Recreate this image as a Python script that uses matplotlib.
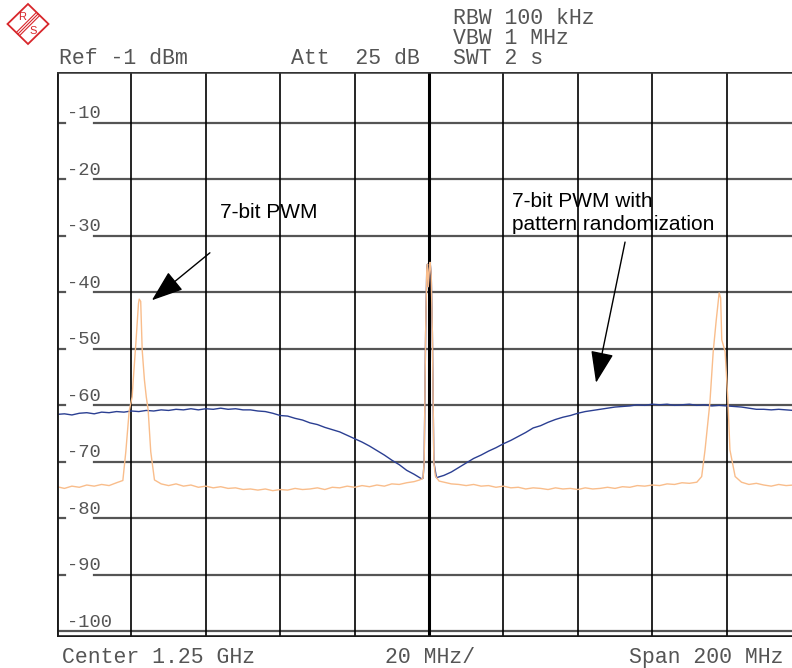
import matplotlib
matplotlib.use('Agg')
import matplotlib.pyplot as plt
from matplotlib.patches import Polygon

# ---- data (frequency in MHz, level in dBm) ----
freq_pwm = [1150, 1152, 1154, 1156, 1158, 1160, 1162, 1164, 1166, 1167.7,
            1168.5, 1169.4, 1170.2, 1170.5, 1171.2, 1171.9, 1172.1, 1172.5, 1172.9, 1173.5,
            1174.0, 1174.5, 1175.2, 1176.2, 1178, 1180, 1182, 1184, 1186, 1188,
            1190, 1192, 1194, 1196, 1198, 1200, 1202, 1204, 1206, 1208,
            1210, 1212, 1214, 1216, 1218, 1220, 1222, 1224, 1226, 1228,
            1230, 1232, 1234, 1236, 1238, 1240, 1242, 1244, 1246, 1247.5,
            1248.4, 1248.7, 1249.1, 1249.4, 1249.6, 1249.8, 1250.1, 1250.3, 1250.6, 1250.9,
            1251.3, 1251.7, 1252.7, 1254, 1256, 1258, 1260, 1262, 1264, 1266,
            1268, 1270, 1272, 1274, 1276, 1278, 1280, 1282, 1284, 1286,
            1288, 1290, 1292, 1294, 1296, 1298, 1300, 1302, 1304, 1306,
            1308, 1310, 1312, 1314, 1316, 1318, 1320, 1322, 1323.3, 1324.2,
            1325.5, 1326.4, 1327.2, 1328.0, 1328.4, 1328.7, 1329.6, 1330.3, 1330.9, 1332.3,
            1334, 1336, 1338, 1340, 1342, 1344, 1346, 1348, 1350]
level_pwm = [-74.4, -74.7, -74.3, -74.5, -74.1, -74.3, -74.0, -74.2, -73.7, -73.3,
             -68.2, -61.0, -58.5, -55.5, -49.0, -42.0, -41.2, -41.6, -50.2, -55.5,
             -58.5, -60.8, -68.2, -73.2, -73.9, -74.2, -73.9, -74.3, -74.1, -74.5,
             -74.3, -74.6, -74.4, -74.7, -74.6, -74.9, -74.8, -75.0, -74.8, -75.1,
             -74.9, -75.0, -74.7, -74.9, -74.8, -74.6, -74.9, -74.5, -74.6, -74.3,
             -74.5, -74.2, -74.4, -74.1, -74.3, -73.9, -74.0, -73.7, -73.5, -73.2,
             -72.9, -70.0, -47.0, -36.0, -35.0, -39.0, -36.0, -34.7, -37.0, -47.0,
             -70.0, -72.5, -73.4, -73.6, -73.9, -74.0, -74.2, -74.0, -74.3, -74.2,
             -74.5, -74.3, -74.6, -74.5, -74.8, -74.6, -74.7, -74.9, -74.6, -74.8,
             -74.7, -74.9, -74.6, -74.8, -74.7, -74.5, -74.7, -74.4, -74.5, -74.2,
             -74.3, -74.1, -74.2, -73.9, -74.0, -73.7, -73.8, -73.6, -72.6, -67.9,
             -59.6, -50.5, -45.0, -40.1, -41.0, -48.4, -50.5, -58.5, -67.9, -72.6,
             -73.6, -74.0, -73.8, -74.1, -74.3, -74.0, -74.2, -74.1, -74.3]

freq_rand = [1150, 1152, 1154, 1156, 1158, 1160, 1162, 1164, 1166, 1168,
             1170, 1172, 1174, 1176, 1178, 1180, 1182, 1184, 1186, 1188,
             1190, 1192, 1194, 1196, 1198, 1200, 1202, 1204, 1206, 1208,
             1210, 1212, 1214, 1216, 1218, 1220, 1222, 1224, 1226, 1228,
             1230, 1232, 1234, 1236, 1238, 1240, 1242, 1244, 1246, 1247,
             1248, 1248.4, 1248.7, 1249.1, 1249.4, 1249.6, 1249.8, 1250.1, 1250.3, 1250.6,
             1250.9, 1251.3, 1252, 1254, 1256, 1258, 1260, 1262, 1264, 1266,
             1268, 1270, 1272, 1274, 1276, 1278, 1280, 1282, 1284, 1286,
             1288, 1290, 1292, 1294, 1296, 1298, 1300, 1302, 1304, 1306,
             1308, 1310, 1312, 1314, 1316, 1318, 1320, 1322, 1324, 1326,
             1328, 1330, 1332, 1334, 1336, 1338, 1340, 1342, 1344, 1346,
             1348, 1350]
level_rand = [-61.6, -61.5, -61.7, -61.4, -61.3, -61.5, -61.2, -61.3, -61.1, -61.2,
              -61.0, -61.1, -60.9, -61.0, -60.8, -60.9, -60.7, -60.8, -60.6, -60.8,
              -60.6, -60.7, -60.5, -60.7, -60.6, -60.8, -60.8, -61.0, -61.1, -61.4,
              -61.8, -61.9, -62.3, -62.6, -63.1, -63.4, -63.9, -64.3, -64.7, -65.3,
              -65.9, -66.5, -67.2, -68.0, -68.8, -69.7, -70.5, -71.5, -72.2, -72.6,
              -73.0, -72.9, -70.0, -47.0, -36.0, -35.0, -39.0, -36.0, -34.7, -37.0,
              -47.0, -70.0, -72.8, -72.4, -71.8, -71.0, -70.2, -69.4, -68.8, -68.1,
              -67.5, -66.8, -66.2, -65.5, -64.8, -64.0, -63.6, -63.0, -62.5, -62.1,
              -61.8, -61.4, -61.1, -60.9, -60.7, -60.5, -60.3, -60.2, -60.1, -59.9,
              -60.0, -59.8, -59.9, -59.8, -60.0, -59.9, -59.8, -60.0, -59.9, -60.1,
              -60.0, -60.1, -60.2, -60.3, -60.5, -60.7, -60.7, -60.8, -60.7, -60.8,
              -60.9, -60.9]

grid_freqs = [1170, 1190, 1210, 1230, 1250, 1270, 1290, 1310, 1330]
grid_levels = [-10, -20, -30, -40, -50, -60, -70, -80, -90, -100]

MONO = 'Liberation Mono'
SANS = 'Liberation Sans'
TXT = '#555555'
BLUE = '#2b3f92'
ORANGE = '#f9bd8b'
RED = '#d8262b'

fig = plt.figure(figsize=(7.92, 6.68), dpi=100)
fig.patch.set_facecolor('white')

# plot area: x 57..801 px (right part cut by the image edge), y 72..637 px
ax = fig.add_axes([57 / 792, 31 / 668, 744 / 792, 565 / 668])
ax.set_xlim(1150, 1350)
ax.set_ylim(-101, -1)
ax.axis('off')

# grid
for g in grid_levels:
    if g == -100:
        ax.plot([1150, 1350], [g, g], color='#555555', lw=1.6, zorder=1)
    else:
        ax.plot([1150, 1152.2], [g, g], color='#555555', lw=1.6, zorder=1)
        ax.plot([1160, 1350], [g, g], color='#555555', lw=1.6, zorder=1)
    ax.text(1152.7, g + 0.8, str(g), fontsize=13.5, family=MONO, color=TXT,
            ha='left', va='baseline')
for f in grid_freqs:
    ax.axvline(f, color='black', lw=2.2 if f == 1250 else 1.2, zorder=1)

# frame
ax.axvline(1150, color='#1a1a1a', lw=2.8, zorder=5)
ax.axhline(-1, color='#333333', lw=1.8, zorder=5)
ax.axhline(-101, color='#1a1a1a', lw=2.6, zorder=5)

# traces
ax.plot(freq_rand, level_rand, color=BLUE, lw=1.0, zorder=3)
ax.plot(freq_pwm, level_pwm, color=ORANGE, lw=1.0, zorder=4)

# annotations
arrow = dict(arrowstyle='-|>,head_length=1.1,head_width=0.4',
             color='black', lw=1.0, shrinkA=0, shrinkB=0, mutation_scale=18)
ax.text(1193.8, -25.8, '7-bit PWM', family=SANS, fontsize=15, ha='left', va='center')
ax.annotate('', xy=(1175.5, -41.4), xytext=(1191.1, -33.0), arrowprops=arrow)
ax.text(1272.3, -26.0, '7-bit PWM with\npattern randomization', family=SANS, fontsize=15,
        ha='left', va='center', linespacing=1.25)
ax.annotate('', xy=(1294.9, -56.0), xytext=(1302.7, -31.1), arrowprops=arrow)

# header / footer text (figure pixel positions)
def ftext(x, y, s):
    fig.text(x / 792, 1 - y / 668, s, family=MONO, fontsize=15.5, color=TXT,
             ha='left', va='baseline')

ftext(453, 24, 'RBW 100 kHz')
ftext(453, 44, 'VBW 1 MHz')
ftext(453, 64, 'SWT 2 s')
ftext(59, 64, 'Ref -1 dBm')
ftext(291, 64, 'Att  25 dB')
ftext(62, 663, 'Center 1.25 GHz')
ftext(385, 663, '20 MHz/')
ftext(629, 663, 'Span 200 MHz')

# R&S logo
lg = fig.add_axes([0, 1 - 50 / 668, 56 / 792, 50 / 668])
lg.set_xlim(0, 56)
lg.set_ylim(50, 0)
lg.axis('off')
lg.add_patch(Polygon([(28, 4), (48.5, 24), (28, 44), (7.5, 24)], closed=True,
                     fill=False, edgecolor=RED, lw=1.3))
for d in (-1.6, 0, 1.6):
    lg.plot([18 + d, 38 + d], [34 + d, 14 + d], color=RED, lw=0.8)
lg.text(22.5, 17.5, 'R', color=RED, family=SANS, fontsize=8, ha='center', va='center')
lg.text(33, 31, 'S', color=RED, family=SANS, fontsize=8, ha='center', va='center')

fig.savefig('out.png', dpi=100)
